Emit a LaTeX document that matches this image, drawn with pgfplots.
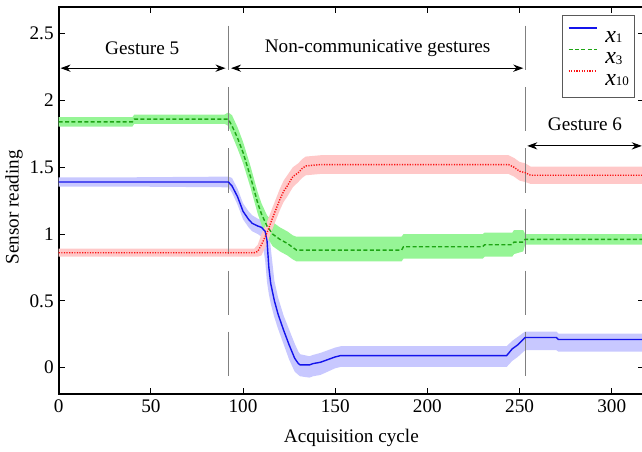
\documentclass[border=0pt]{standalone}
\usepackage{fontspec}
\setmainfont{Liberation Serif}
\usepackage{pgfplots}
\pgfplotsset{compat=1.18}
\usepackage{pgfplotstable}
\usepgfplotslibrary{fillbetween}
\usetikzlibrary{arrows.meta}

\definecolor{lineblue}{RGB}{20,20,235}
\definecolor{linegreen}{RGB}{30,165,20}
\definecolor{linered}{RGB}{250,20,20}
\definecolor{bandblue}{RGB}{200,200,255}
\definecolor{bandgreen}{RGB}{150,245,150}
\definecolor{bandred}{RGB}{255,200,200}

\pgfplotstableread{
x y lo hi
0 1.39 1.355 1.425
40 1.39 1.355 1.425
92 1.39 1.35 1.43
94 1.36 1.31 1.42
97 1.28 1.22 1.34
100 1.17 1.11 1.23
103 1.11 1.05 1.17
105 1.08 1.02 1.14
108 1.06 1.00 1.115
110 1.05 0.98 1.105
112 1.02 0.80 1.09
113 0.95 0.64 1.08
114 0.75 0.55 1.035
115 0.63 0.48 0.90
117 0.50 0.375 0.65
119 0.40 0.29 0.525
122 0.28 0.175 0.39
125 0.17 0.06 0.285
128 0.07 -0.03 0.18
130 0.03 -0.055 0.12
131 0.02 -0.065 0.10
136 0.02 -0.075 0.085
138 0.03 -0.065 0.095
142 0.04 -0.055 0.11
146 0.06 -0.03 0.13
150 0.08 -0.005 0.15
153 0.09 0.005 0.16
200 0.09 0.005 0.16
243 0.09 0.005 0.16
246 0.14 0.05 0.20
249 0.17 0.08 0.23
253 0.225 0.13 0.27
270 0.225 0.13 0.27
271 0.21 0.12 0.255
317.5 0.21 0.12 0.255
}\xone

\pgfplotstableread{
x y lo hi
0 1.84 1.805 1.875
40 1.84 1.805 1.875
41 1.86 1.825 1.895
90 1.86 1.825 1.895
92 1.86 1.81 1.91
94 1.81 1.74 1.89
97 1.72 1.64 1.80
100 1.61 1.53 1.69
102 1.52 1.44 1.60
104 1.43 1.35 1.51
106 1.33 1.25 1.41
108 1.23 1.15 1.31
110 1.15 1.07 1.23
113 1.06 0.98 1.14
116 1.00 0.91 1.09
120 0.96 0.87 1.05
124 0.93 0.84 1.02
127 0.90 0.81 0.99
129 0.88 0.795 0.98
186 0.88 0.795 0.98
187 0.905 0.815 1.00
230 0.905 0.815 1.00
231 0.92 0.83 1.01
246 0.92 0.83 1.01
247 0.94 0.85 1.03
252 0.94 0.87 1.03
253 0.96 0.92 1.00
317.5 0.96 0.92 1.00
}\xthree

\pgfplotstableread{
x y lo hi
0 0.86 0.83 0.89
106 0.86 0.83 0.89
108 0.87 0.83 0.92
110 0.92 0.84 1.00
113 1.01 0.93 1.09
116 1.12 1.04 1.20
120 1.26 1.18 1.34
122 1.32 1.24 1.40
124 1.36 1.28 1.44
127 1.43 1.35 1.50
130 1.46 1.39 1.53
132 1.49 1.42 1.56
134 1.51 1.44 1.58
142 1.52 1.45 1.59
244 1.52 1.45 1.59
247 1.50 1.43 1.57
250 1.47 1.40 1.54
253 1.46 1.39 1.53
256 1.44 1.375 1.505
317.5 1.44 1.375 1.505
}\xten

\newcommand\lgx[1]{{\fontsize{12}{12}\selectfont\itshape x}\raisebox{-0.4pt}{\fontsize{6.5}{6.5}\selectfont #1}}

\begin{document}
\begin{tikzpicture}[font=\fontsize{9.6}{11}\selectfont]
\begin{axis}[
  at={(0,0)}, anchor=south west,
  width=292.65pt, height=193.65pt, scale only axis,
  xmin=0, xmax=317.5, ymin=-0.2, ymax=2.7,
  axis line style={line width=0.85pt},
  tick align=inside, major tick length=3pt,
  tick style={line width=0.5pt, black},
  xtick={0,50,...,300}, ytick={0,0.5,...,2.5},
  /pgf/number format/assume math mode=true,
  xticklabel style={anchor=base, yshift=-9pt},
  yticklabel style={anchor=east, xshift=1pt},
  xlabel={Acquisition cycle},
  xlabel style={at={(axis description cs:0.5,0)}, anchor=base, yshift=-23.85pt},
  ylabel={Sensor reading},
  ylabel style={at={([xshift=-22.35pt]axis description cs:0,0.483)}, anchor=center, rotate=0},
  legend cell align=left,
  legend image code/.code={\draw[#1] (0pt,3.5pt) -- (14pt,3.5pt);},
  legend style={at={(axis description cs:1,1)}, anchor=north east,
    xshift=-4.5pt, yshift=-4pt, draw=black!65, line width=0.5pt, fill=white,
    inner xsep=2.8pt, inner ysep=4.3pt, row sep=0pt, column sep=4pt,
    nodes={inner sep=0pt, text height=9pt, text depth=1.75pt}},
]
% bands
\addplot[draw=none, name path=bh, forget plot] table[x=x, y=hi]{\xone};
\addplot[draw=none, name path=bl, forget plot] table[x=x, y=lo]{\xone};
\addplot[bandblue, draw=none, forget plot] fill between[of=bh and bl];
\addplot[draw=none, name path=gh, forget plot] table[x=x, y=hi]{\xthree};
\addplot[draw=none, name path=gl, forget plot] table[x=x, y=lo]{\xthree};
\addplot[bandgreen, draw=none, forget plot] fill between[of=gh and gl];
\addplot[draw=none, name path=rh, forget plot] table[x=x, y=hi]{\xten};
\addplot[draw=none, name path=rl, forget plot] table[x=x, y=lo]{\xten};
\addplot[bandred, draw=none, forget plot] fill between[of=rh and rl];
% separators
\addplot[gray, line width=0.5pt, dash pattern=on 22.25pt off 8.35pt, forget plot] coordinates {(92,2.56) (92,-0.09)};
\addplot[gray, line width=0.5pt, dash pattern=on 22.25pt off 8.35pt, forget plot] coordinates {(253,2.56) (253,-0.09)};
% lines
\addplot[lineblue, line width=0.7pt] table[x=x, y=y]{\xone};
\addlegendentry{\lgx{1}}
\addplot[linegreen, line width=0.7pt, dash pattern=on 2pt off 1.2pt] table[x=x, y=y]{\xthree};
\addlegendentry{\lgx{3}}
\addplot[linered, line width=0.7pt, dash pattern=on 0.6pt off 0.7pt] table[x=x, y=y]{\xten};
\addlegendentry{\lgx{10}}
% annotations
\draw[line width=0.5pt, {Stealth[length=5pt,width=3.6pt,inset=1.6pt]}-{Stealth[length=5pt,width=3.6pt,inset=1.6pt]}] (axis cs:1,2.242) -- (axis cs:90.5,2.242);
\draw[line width=0.5pt, {Stealth[length=5pt,width=3.6pt,inset=1.6pt]}-{Stealth[length=5pt,width=3.6pt,inset=1.6pt]}] (axis cs:93.5,2.242) -- (axis cs:252,2.242);
\draw[line width=0.5pt, {Stealth[length=5pt,width=3.6pt,inset=1.6pt]}-{Stealth[length=5pt,width=3.6pt,inset=1.6pt]}] (axis cs:254.2,1.66) -- (axis cs:316.3,1.66);
\node at (axis cs:45.3,2.39) {Gesture 5};
\node at (axis cs:173,2.39) {Non-communicative gestures};
\node at (axis cs:285.5,1.82) {Gesture 6};
\end{axis}
\pgfresetboundingbox
\path (-29.35pt,-28.35pt) rectangle (291.65pt,197.15pt);
\end{tikzpicture}
\end{document}
